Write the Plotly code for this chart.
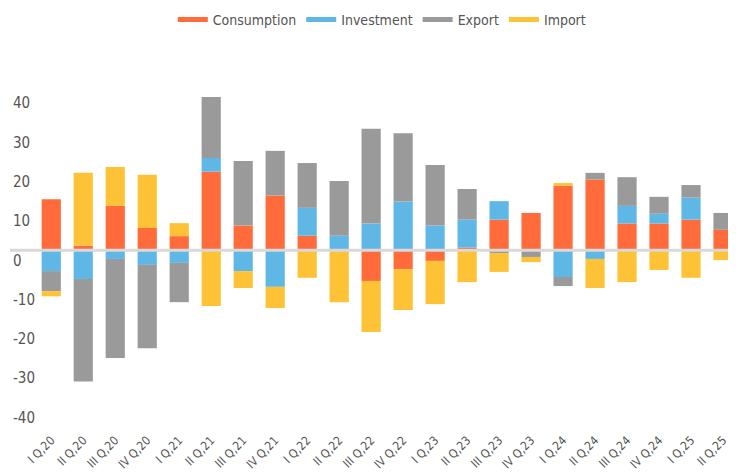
import plotly.graph_objects as go

categories = ["I Q,20", "II Q,20", "III Q,20", "IV Q,20",
              "I Q,21", "II Q,21", "III Q,21", "IV Q,21",
              "I Q,22", "II Q,22", "III Q,22", "IV Q,22",
              "I Q,23", "II Q,23", "III Q,23", "IV Q,23",
              "I Q,24", "II Q,24", "III Q,24", "IV Q,24",
              "I Q,25", "II Q,25"]

consumption = [13.0, 1.2, 11.3, 5.7, 3.6, 20.0, 6.3, 13.9, 3.7, 0.0, -7.8, -4.8,
               -2.7, 0.7, 7.8, 9.5, 16.4, 18.0, 6.8, 6.8, 7.8, 5.2]
investment = [-5.3, -7.3, -2.2, -3.7, -3.2, 3.5, -5.3, -9.3, 7.1, 3.7, 6.8, 12.4,
              6.3, 7.1, 4.7, 0.0, -6.8, -2.2, 4.5, 2.5, 5.6, 0.0]
export = [-5.1, -26.1, -25.2, -21.2, -10.0, 15.5, 16.4, 11.4, 11.4, 13.9, 24.1, 17.4,
          15.4, 7.8, -0.7, -1.7, -2.3, 1.7, 7.3, 4.3, 3.2, 4.3]
imports = [-1.3, 18.5, 9.9, 13.5, 3.3, -14.2, -4.3, -5.4, -7.0, -13.2, -13.0, -10.4,
           -11.0, -8.1, -4.8, -1.3, 0.7, -7.4, -8.1, -5.0, -7.0, -2.5]

series_names = ["Consumption", "Investment", "Export", "Import"]
series_values = [consumption, investment, export, imports]
colors = ["#FF6B3A", "#5EB7E5", "#9A9A9A", "#FDC236"]

y_ticks = [-40, -30, -20, -10, 0, 10, 20, 30, 40]
y_tick_text = ["-40", "-30", "-20", "-10", "0", "10", "20", "30", "40"]

FONT = "DejaVu Sans Condensed, Liberation Sans Narrow, sans-serif"

fig = go.Figure()
for name, vals, col in zip(series_names, series_values, colors):
    fig.add_trace(go.Bar(x=categories, y=vals, name=name, marker_color=col,
                         marker_line_width=0, showlegend=False))
for name, col in zip(series_names, colors):
    fig.add_trace(go.Scatter(x=[None], y=[None], mode="lines", name=name,
                             line=dict(color=col, width=5)))

fig.add_shape(type="line", xref="paper", yref="y", x0=0, x1=1.0, y0=0, y1=0,
              line=dict(color="#D9D9D9", width=3), layer="above")

fig.update_layout(
    width=736, height=473,
    barmode="relative", bargap=0.4,
    plot_bgcolor="white", paper_bgcolor="white",
    margin=dict(l=2, r=5, t=52, b=51, autoexpand=False),
    font=dict(family=FONT, color="#555555", size=14),
    legend=dict(orientation="h", xanchor="center", x=0.51,
                yref="container", y=0.9746, yanchor="middle",
                font=dict(size=14, color="#555555"), itemwidth=30),
    xaxis=dict(range=[-1.29, 21.5], tickangle=-45, showgrid=False, showline=False,
               automargin=False, ticks="", tickfont=dict(size=12, color="#555555")),
    yaxis=dict(range=[-45.73, 48.42], tickvals=y_ticks, ticktext=y_tick_text,
               showgrid=False, automargin=False, zeroline=False, showline=False,
               ticks="", ticklabelposition="inside", ticklabelshift=10,
               tickfont=dict(size=15, color="#555555")),
)

fig.write_html("out.html")
